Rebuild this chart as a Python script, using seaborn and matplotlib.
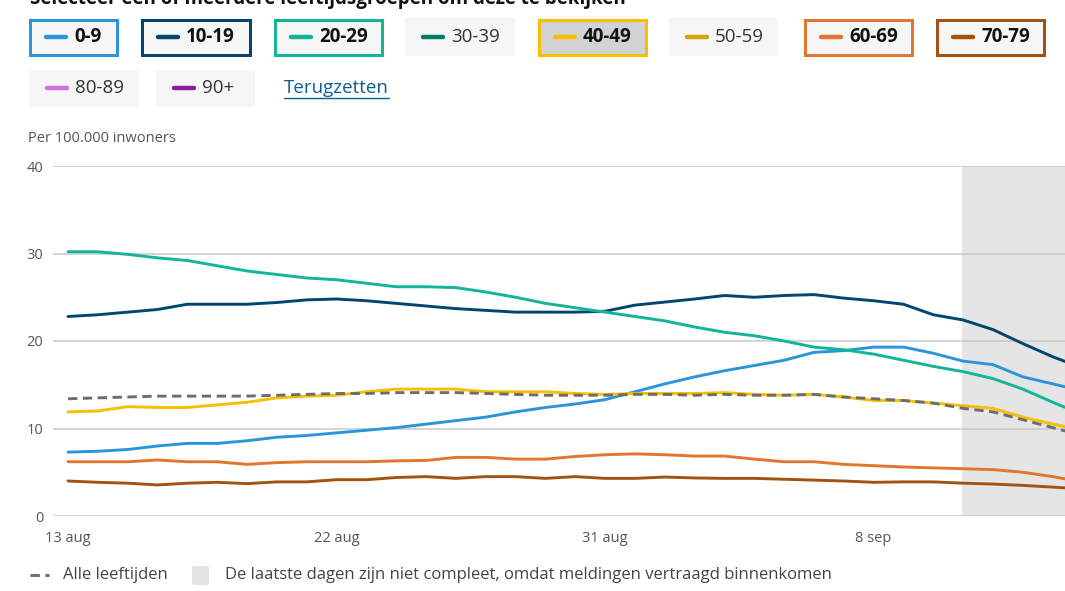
import numpy as np
import pandas as pd
import matplotlib
matplotlib.use("Agg")
import matplotlib.pyplot as plt
import seaborn as sns
from matplotlib.patches import Rectangle, FancyBboxPatch
from matplotlib.lines import Line2D

# ---------------- data ----------------
days = list(range(35))
tick_days = [0, 9, 18, 27]
tick_labels = ["13 aug", "22 aug", "31 aug", "8 sep"]
y_ticks = [0, 10, 20, 30, 40]
incomplete_from = 30

age_0_9 = [7.3, 7.4, 7.6, 8.0, 8.3, 8.3, 8.6, 9.0, 9.2, 9.5, 9.8, 10.1, 10.5, 10.9, 11.3,
           11.9, 12.4, 12.8, 13.3, 14.2, 15.1, 15.9, 16.6, 17.2, 17.8, 18.7, 18.9, 19.3,
           19.3, 18.6, 17.7, 17.3, 15.9, 15.1, 14.3]
age_10_19 = [22.8, 23.0, 23.3, 23.6, 24.2, 24.2, 24.2, 24.4, 24.7, 24.8, 24.6, 24.3, 24.0,
             23.7, 23.5, 23.3, 23.3, 23.3, 23.4, 24.1, 24.45, 24.8, 25.2, 25.0, 25.2, 25.3,
             24.9, 24.6, 24.2, 23.0, 22.4, 21.3, 19.7, 18.2, 16.9]
age_20_29 = [30.2, 30.2, 29.9, 29.5, 29.2, 28.6, 28.0, 27.6, 27.2, 27.0, 26.6, 26.2, 26.2,
             26.1, 25.6, 25.0, 24.3, 23.8, 23.3, 22.8, 22.3, 21.6, 21.0, 20.6, 20.0, 19.3,
             19.0, 18.5, 17.8, 17.1, 16.5, 15.7, 14.5, 13.0, 11.6]
age_40_49 = [11.9, 12.0, 12.5, 12.4, 12.4, 12.7, 13.0, 13.5, 13.7, 13.8, 14.2, 14.5, 14.5,
             14.5, 14.2, 14.2, 14.2, 14.0, 13.9, 14.0, 14.0, 14.0, 14.1, 13.9, 13.8, 13.9,
             13.6, 13.2, 13.2, 12.9, 12.6, 12.3, 11.3, 10.5, 9.8]
age_60_69 = [6.2, 6.2, 6.2, 6.4, 6.2, 6.2, 5.9, 6.1, 6.2, 6.2, 6.2, 6.3, 6.35, 6.7, 6.7,
             6.5, 6.5, 6.8, 7.0, 7.1, 7.0, 6.85, 6.85, 6.5, 6.2, 6.2, 5.9, 5.75, 5.6, 5.5,
             5.4, 5.3, 5.0, 4.5, 3.9]
age_70_79 = [4.0, 3.85, 3.75, 3.55, 3.75, 3.85, 3.7, 3.9, 3.9, 4.15, 4.15, 4.4, 4.5, 4.3,
             4.5, 4.5, 4.3, 4.5, 4.3, 4.3, 4.45, 4.35, 4.3, 4.3, 4.2, 4.1, 4.0, 3.85, 3.9,
             3.9, 3.75, 3.65, 3.5, 3.3, 3.1]
all_ages = [13.4, 13.5, 13.6, 13.7, 13.7, 13.7, 13.7, 13.8, 13.9, 14.0, 14.0, 14.1, 14.1,
            14.1, 14.0, 13.9, 13.8, 13.8, 13.8, 13.9, 13.9, 13.8, 13.9, 13.8, 13.8, 13.9,
            13.6, 13.4, 13.2, 12.9, 12.3, 11.9, 11.0, 10.1, 9.2]

series = {"0-9": age_0_9, "10-19": age_10_19, "20-29": age_20_29,
          "40-49": age_40_49, "60-69": age_60_69, "70-79": age_70_79}

legend_groups = ["0-9", "10-19", "20-29", "30-39", "40-49", "50-59", "60-69", "70-79",
                 "80-89", "90+"]
selected = ["0-9", "10-19", "20-29", "40-49", "60-69", "70-79"]
colors = {"0-9": "#2b95dc", "10-19": "#01466f", "20-29": "#12b597", "30-39": "#077a65",
          "40-49": "#f6c000", "50-59": "#d3a300", "60-69": "#e2762e", "70-79": "#a3520f",
          "80-89": "#cf70dc", "90+": "#8b1f9f"}

df = pd.DataFrame([{"dag": d, "waarde": v, "groep": g}
                   for g, vals in series.items() for d, v in zip(days, vals)])

# ---------------- style ----------------
sns.set_theme(style="white")
plt.rcParams["font.family"] = ["Open Sans", "DejaVu Sans"]

W, H = 1065, 591
fig = plt.figure(figsize=(W / 100, H / 100), dpi=100)
fig.patch.set_facecolor("white")

def fx(px):
    return px / W

def fy(py):
    return 1 - py / H

ax_left, ax_right, ax_top, ax_bottom = 53, 1065, 166, 516
ax = fig.add_axes([fx(ax_left), fy(ax_bottom), (ax_right - ax_left) / W,
                   (ax_bottom - ax_top) / H])
ax.set_facecolor("white")

px_per_day = 29.84
x0 = 68
ax.set_xlim((ax_left - x0) / px_per_day, (ax_right - x0) / px_per_day)
ax.set_ylim(0, 40)

ax.axvspan(incomplete_from - 0.03, 40, color="#e5e5e5", lw=0, zorder=0.1)

sns.lineplot(data=df, x="dag", y="waarde", hue="groep", hue_order=list(series.keys()),
             palette=colors, linewidth=2.1, errorbar=None, legend=False, ax=ax, zorder=3)
sns.lineplot(x=days, y=all_ages, color="#6d6d6d", linewidth=2.1,
             linestyle=(0, (3.2, 1.9)), errorbar=None, ax=ax, zorder=4)

ax.set_axisbelow(True)
ax.yaxis.grid(True, color="#c9c9c9", linewidth=1.1)
ax.xaxis.grid(False)
for s in ax.spines.values():
    s.set_visible(False)
ax.set_yticks(y_ticks)
ax.set_xticks(tick_days)
ax.set_xticklabels(tick_labels)
ax.tick_params(axis="both", length=0, labelsize=10.5, labelcolor="#555555")
ax.tick_params(axis="y", pad=7)
ax.tick_params(axis="x", pad=11)
ax.set_xlabel("")
ax.set_ylabel("")

fig.text(fx(28), fy(139), "Per 100.000 inwoners", fontsize=10.5, color="#555555",
         va="center", ha="left")

# partially visible instruction text at the very top (cut off as in the reference)
fig.text(fx(30), fy(4), "Selecteer een of meerdere leeftijdsgroepen om deze te bekijken",
         fontsize=13.5, fontweight="bold", color="#111111", va="baseline", ha="left")

# ---------------- legend buttons ----------------
boxes = {
    "0-9": (28, 118, 18, 56), "10-19": (140, 251, 18, 56), "20-29": (273, 383, 18, 56),
    "30-39": (405, 515, 18, 56), "40-49": (537, 647, 18, 56), "50-59": (669, 778, 18, 56),
    "60-69": (803, 913, 18, 56), "70-79": (935, 1045, 18, 56),
    "80-89": (29, 139, 70, 107), "90+": (156, 255, 70, 107),
}
bw = 3.0
for g in legend_groups:
    xa, xb, ya, yb = boxes[g]
    sel = g in selected
    face = "#d2d2d2" if g == "40-49" else "#f6f6f6"
    if sel:
        r = Rectangle((fx(xa + bw / 2), fy(yb - bw / 2)), (xb - xa - bw) / W,
                      (yb - ya - bw) / H, transform=fig.transFigure, facecolor=face,
                      edgecolor=colors[g], linewidth=bw * 0.72)
    else:
        r = Rectangle((fx(xa), fy(yb)), (xb - xa) / W, (yb - ya) / H,
                      transform=fig.transFigure, facecolor=face, edgecolor="none")
    fig.add_artist(r)
    yc = (ya + yb) / 2
    fig.add_artist(Line2D([fx(xa + 18), fx(xa + 38)], [fy(yc), fy(yc)],
                          transform=fig.transFigure, color=colors[g], linewidth=3.2,
                          solid_capstyle="round"))
    fig.text(fx(xa + 46), fy(yc), g, fontsize=13.5,
             fontweight="bold" if sel else "normal",
             color="#111111" if sel else "#333333", va="center", ha="left")

fig.text(fx(284), fy(88), "Terugzetten", fontsize=13.5, color="#0f5d8f", va="center",
         ha="left")
fig.add_artist(Line2D([fx(284), fx(389)], [fy(98), fy(98)], transform=fig.transFigure,
                      color="#0f5d8f", linewidth=1.0))

# ---------------- bottom legend ----------------
fig.add_artist(Line2D([fx(30), fx(49)], [fy(575), fy(575)], transform=fig.transFigure,
                      color="#6d6d6d", linewidth=2.1, linestyle=(0, (3.2, 1.9))))
fig.text(fx(63), fy(575), "Alle leeftijden", fontsize=12, color="#444444", va="center",
         ha="left")
fig.add_artist(FancyBboxPatch((fx(192), fy(585)), 17 / W, 19 / H,
                              boxstyle="round,pad=0,rounding_size=0.003",
                              transform=fig.transFigure, facecolor="#e3e3e3",
                              edgecolor="none"))
fig.text(fx(225), fy(575),
         "De laatste dagen zijn niet compleet, omdat meldingen vertraagd binnenkomen",
         fontsize=12, color="#444444", va="center", ha="left")

fig.savefig("out.png", dpi=100, facecolor="white")
